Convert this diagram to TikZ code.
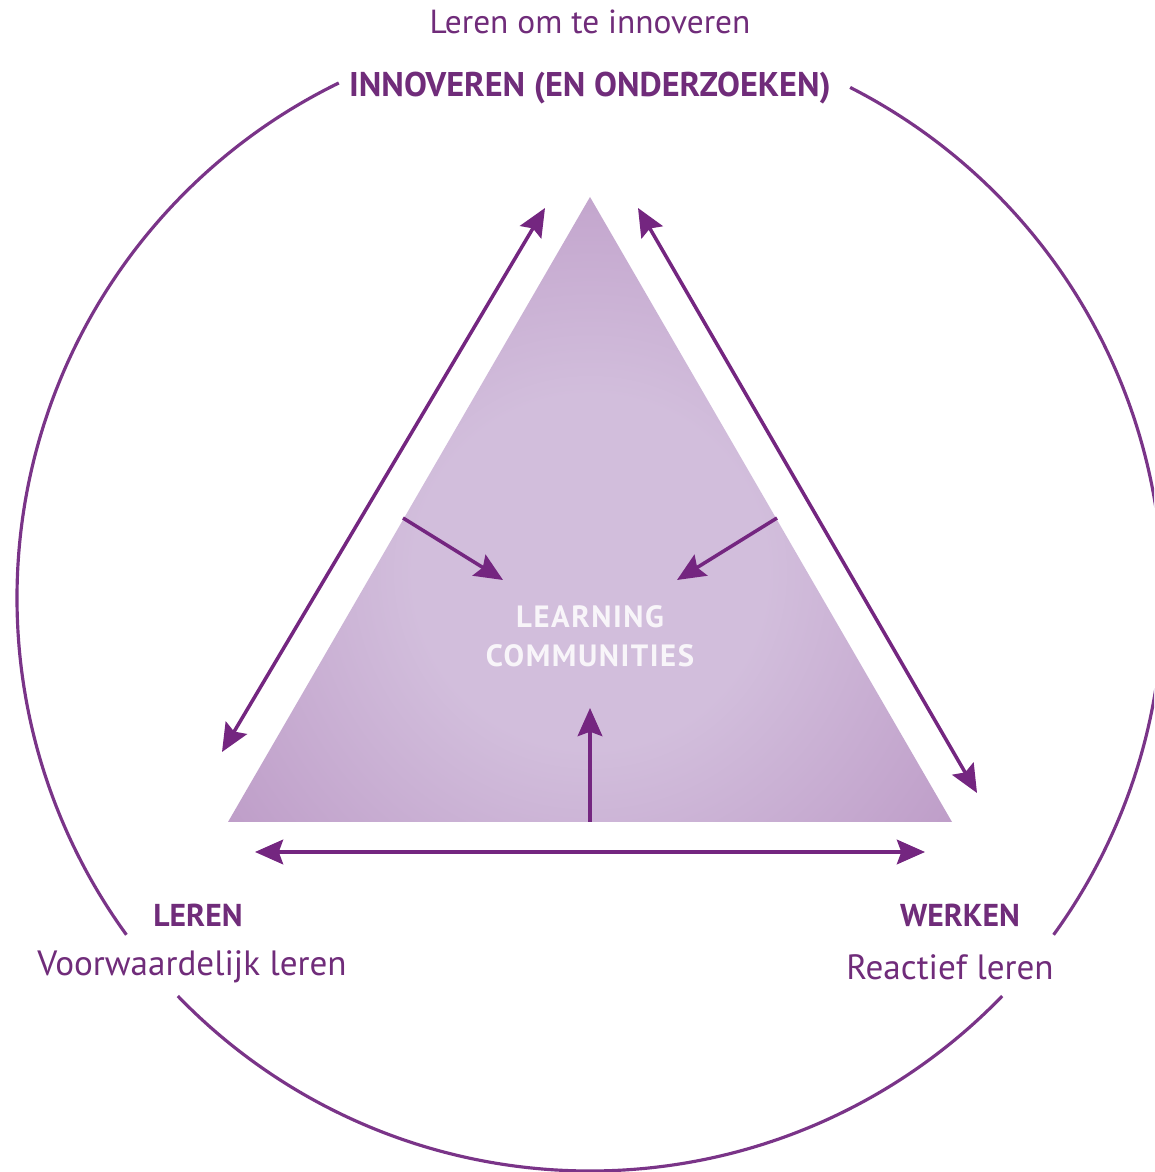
\documentclass[tikz,border=0pt]{standalone}
\usepackage{fontspec}
\setmainfont{PT Sans}
\newfontfamily\centrefont[LetterSpace=5]{PT Sans}
\usetikzlibrary{arrows.meta}
\definecolor{txtpurple}{RGB}{112,44,122}
\definecolor{linepurple}{RGB}{116,38,128}
\definecolor{circpurple}{RGB}{122,52,136}
\definecolor{tin}{RGB}{210,190,220}
\definecolor{tout}{RGB}{158,104,168}
\pgfdeclareradialshading{trishade}{\pgfpoint{0bp}{0bp}}{color(0bp)=(tin); color(10bp)=(tin); color(50bp)=(tout)}
\tikzset{
  ring/.style={draw=circpurple, line width=1.8pt},
  arr/.style={draw=linepurple, line width=2pt, -{Stealth[length=16pt,width=14pt,inset=2.5pt]}},
  darr/.style={draw=linepurple, line width=2pt, {Stealth[length=16pt,width=14pt,inset=2.5pt]}-{Stealth[length=16pt,width=14pt,inset=2.5pt]}},
  title/.style={text=txtpurple, font=\fontsize{19}{23}\selectfont, inner sep=0pt},
  head/.style={text=txtpurple, font=\fontsize{18}{22}\selectfont\bfseries, inner sep=0pt},
  headtop/.style={text=txtpurple, font=\fontsize{19.5}{23}\selectfont\bfseries, inner sep=0pt},
  sub/.style={text=txtpurple, font=\fontsize{20}{24}\selectfont, inner sep=0pt},
  centre/.style={text=white, font=\centrefont\fontsize{17.5}{22}\selectfont\bfseries, inner sep=0pt, opacity=0.85}
}
\begin{document}
\begin{tikzpicture}[x=0.02cm, y=0.02cm]
\useasboundingbox (0,0) rectangle (1154,1172);
\clip (0,0) rectangle (1154,1172);
\fill[white] (0,0) rectangle (1154,1172);
% outer ring in three arcs
\coordinate (ctr) at (590,574);
\draw[ring] (ctr) ++(116:573) arc[start angle=116, end angle=216, radius=573];
\draw[ring] (ctr) ++(224:573) arc[start angle=224, end angle=316, radius=573];
\draw[ring] (ctr) ++(324:573) arc[start angle=324, end angle=423, radius=573];
% triangle
\coordinate (apex) at (590,975);
\coordinate (bl) at (228,350);
\coordinate (br) at (952,350);
\begin{scope}
\clip (apex) -- (bl) -- (br) -- cycle;
\shade[shading=trishade] (590,600) circle[radius=440];
\end{scope}
% side arrows
\coordinate (la) at (222,420);
\coordinate (lb) at (545,964);
\coordinate (ra) at (638,964);
\coordinate (rb) at (977,379);
\coordinate (ba) at (255,320);
\coordinate (bb) at (925,320);
\draw[darr] (la) -- (lb);
\draw[darr] (ra) -- (rb);
\draw[darr] (ba) -- (bb);
% inner arrows
\coordinate (v0) at (590,350);
\coordinate (v1) at (590,464);
\coordinate (il0) at (403,654);
\coordinate (il1) at (503,592);
\coordinate (ir0) at (777,654);
\coordinate (ir1) at (677,592);
\draw[arr] (v0) -- (v1);
\draw[arr] (il0) -- (il1);
\draw[arr] (ir0) -- (ir1);
% texts
\node[title] (t1) at (590,1150) {Leren om te innoveren};
\node[headtop] (t2) at (590,1084) {INNOVEREN (EN ONDERZOEKEN)};
\node[head] (t3) at (198,257) {LEREN};
\node[sub] (t4) at (192,205) {Voorwaardelijk leren};
\node[head] (t5) at (960,257) {WERKEN};
\node[sub] (t6) at (950,205) {Reactief leren};
\node[centre] (t7) at (590,555) {LEARNING};
\node[centre] (t8) at (590,516) {COMMUNITIES};
\end{tikzpicture}
\end{document}
